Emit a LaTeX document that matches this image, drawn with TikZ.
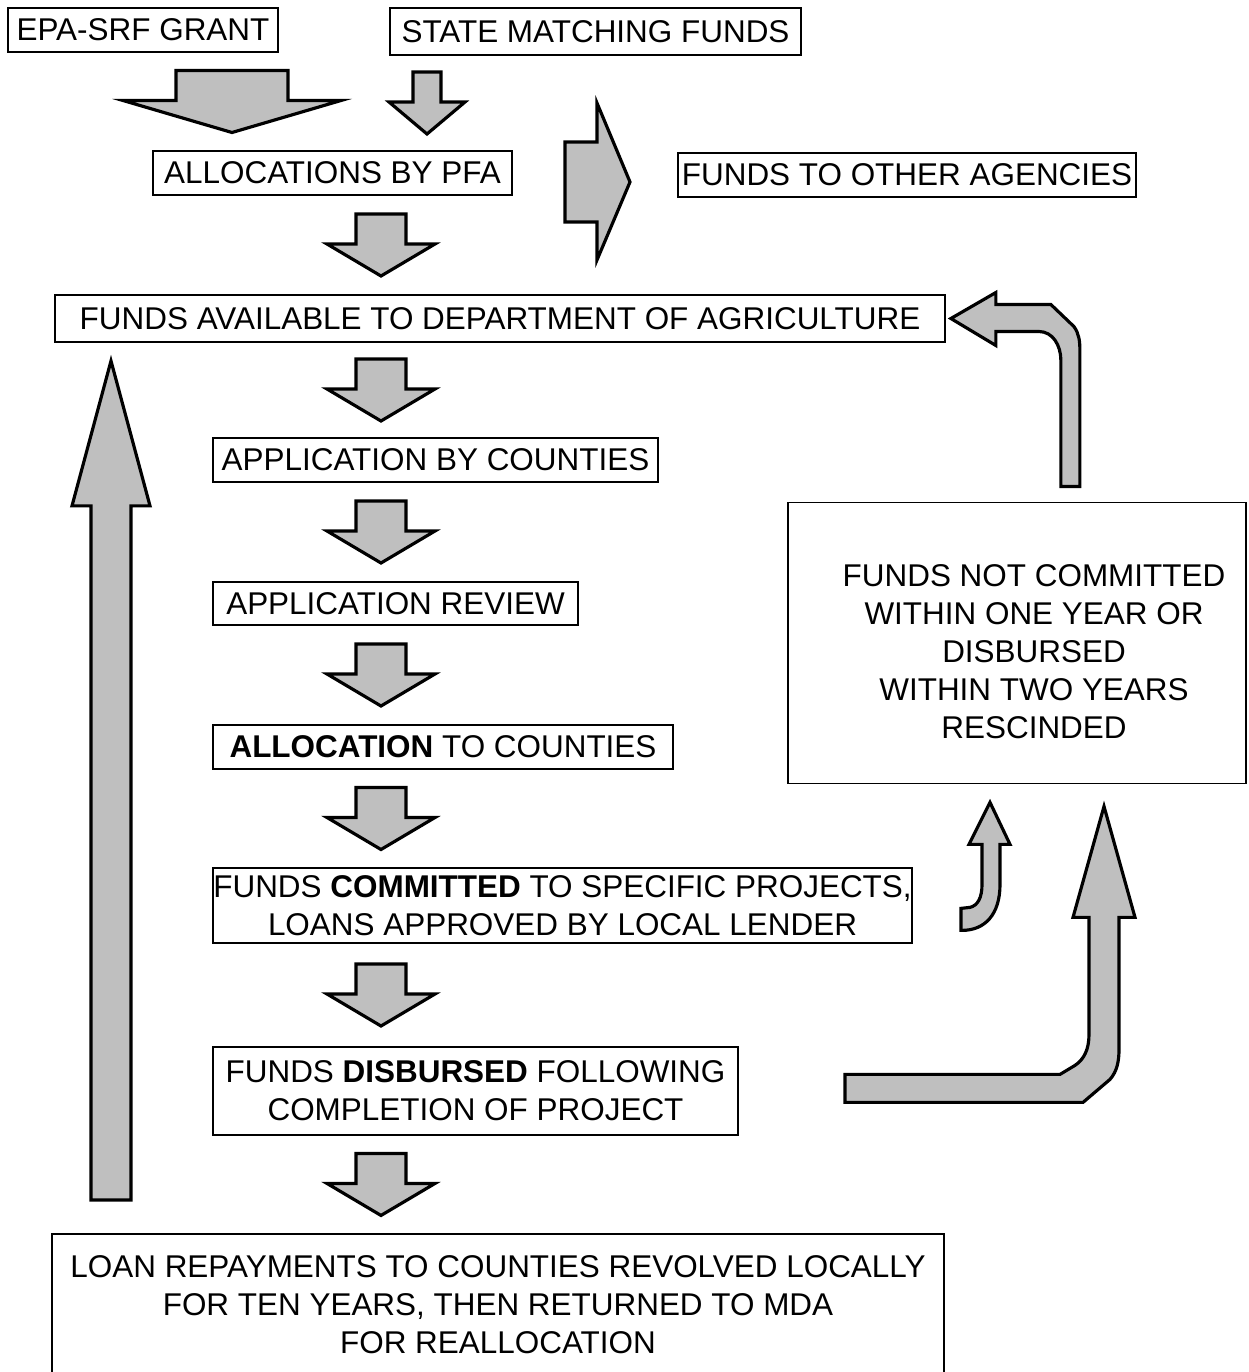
\documentclass[tikz,border=0pt]{standalone}
\usepackage{fontspec}
\setmainfont{Liberation Sans}
\usetikzlibrary{calc}
\newcommand{\chartfont}{\fontsize{17.9}{21.6}\selectfont}
\tikzset{
box/.style={draw, line width=1pt, inner sep=0pt, align=center, font=\chartfont}, % the text boxes
boxsize/.style 2 args={minimum width=#1*0.02cm, minimum height=#2*0.02cm}, % sizes in pixels
lbl/.style={inner sep=0pt, align=center, font=\chartfont},
blk/.style={draw, line width=1.8pt, fill=black!25}, % the shaded block arrows
}
% block arrow pointing down, half way between two boxes
\newcommand{\blkdown}[5]{%
  \path (#1.south) -- (#2.north) coordinate[pos=.5] (mid);
  \coordinate (axis) at (#3,0);
  \draw[blk, shift={(axis |- mid)}] (-#4,-31) -- (-#4,-1) -- (-#5,-1) -- (0,31) -- (#5,-1) -- (#4,-1) -- (#4,-31) -- cycle;
}

\begin{document}
\begin{tikzpicture}[x=0.02cm, y=-0.02cm]
\useasboundingbox (0,0) rectangle (1248,1372);

\node[box, boxsize={270}{44}] (epa) at (143,30) {EPA-SRF GRANT};
\node[box, boxsize={411}{47}] (state) at (595.5,31.5) {STATE MATCHING FUNDS};
\node[box, boxsize={359}{44}] (pfa) at (332.5,173) {ALLOCATIONS BY PFA};
\node[box, boxsize={458}{44}] (other) at (907,175) {FUNDS TO OTHER AGENCIES};
\node[box, boxsize={890}{47}] (avail) at (500,318.5) {FUNDS AVAILABLE TO DEPARTMENT OF AGRICULTURE};
\node[box, boxsize={445}{44}] (appl) at (435.5,460) {APPLICATION BY COUNTIES};
\node[box, boxsize={365}{43}] (review) at (395.5,603.5) {APPLICATION REVIEW};
\node[box, boxsize={460}{44}] (alloc) at (443,747) {\textbf{ALLOCATION} TO COUNTIES};
\node[box, boxsize={699}{75}] (commit) at (562.5,905.5) {FUNDS \textbf{COMMITTED} TO SPECIFIC PROJECTS,\\LOANS APPROVED BY LOCAL LENDER};
\node[box, boxsize={525}{88}] (disb) at (475.5,1091) {FUNDS \textbf{DISBURSED} FOLLOWING\\COMPLETION OF PROJECT};
\node[box, boxsize={892}{0}, inner ysep=0.44cm, anchor=north] (repay) at (498,1233) {LOAN REPAYMENTS TO COUNTIES REVOLVED LOCALLY\\FOR TEN YEARS, THEN RETURNED TO MDA\\FOR REALLOCATION};
\node[box, boxsize={458}{281}] (notcomm) at (1017,643) {};
\node[lbl] (notcommtxt) at (1034,652) {FUNDS NOT COMMITTED\\WITHIN ONE YEAR OR\\DISBURSED\\WITHIN TWO YEARS\\RESCINDED};

\blkdown{epa}{pfa}{232}{56}{109}
\blkdown{state}{pfa}{427}{14}{38}
\blkdown{pfa}{avail}{381}{25}{54}
\blkdown{avail}{appl}{381}{25}{54}
\blkdown{appl}{review}{381}{25}{54}
\blkdown{review}{alloc}{381}{25}{54}
\blkdown{alloc}{commit}{381}{25}{54}
\blkdown{commit}{disb}{381}{25}{54}
\blkdown{disb}{repay}{381}{25}{54}

\path (pfa.east) -- (other.west) coordinate[pos=.5] (mid);
\draw[blk, shift={(mid)}] (-30,-32) -- (2,-32) -- (2,-71) -- (35,8) -- (2,86) -- (2,48) -- (-30,48) -- cycle;

\coordinate (lft) at (111,0);
\draw[blk] ($(lft |- repay.north)+(-20,-33)$) -- ($(lft |- avail.south)+(-20,163)$) -- ++(-19,0) -- ($(lft |- avail.south)+(0,18)$) -- ($(lft |- avail.south)+(39,163)$) -- ++(-19,0) -- ($(lft |- repay.north)+(20,-33)$) -- cycle;

\draw[blk, shift={(avail.east)}] (5,0) -- (50,-26) -- (50,-14) -- (105,-14) -- (128,8) .. controls (133,15) and (134,22) .. (134,32) -- (134,168) -- (115,168) -- (115,42) .. controls (115,27) and (107,13) .. (93,13) -- (50,13) -- (50,27) -- cycle;

\draw[blk, shift={(notcomm.south)}] (-27,18) -- (-7,60) -- (-17,60) -- (-17,100) .. controls (-17,130) and (-32,146) .. (-55,146) -- (-56,146) -- (-56,124) -- (-47,123) .. controls (-39,121) and (-35,113) .. (-35,100) -- (-35,60) -- (-48,60) -- cycle;

\draw[blk, shift={(notcomm.south)}] (-172,290) -- (-172,318) -- (66,318) -- (93,295) .. controls (100,287) and (102,277) .. (102,265) -- (102,133) -- (118,133) -- (87,22) -- (56,133) -- (72,133) -- (72,250) .. controls (72,265) and (67,275) .. (58,281) -- (43,290) -- cycle;

\end{tikzpicture}
\end{document}
